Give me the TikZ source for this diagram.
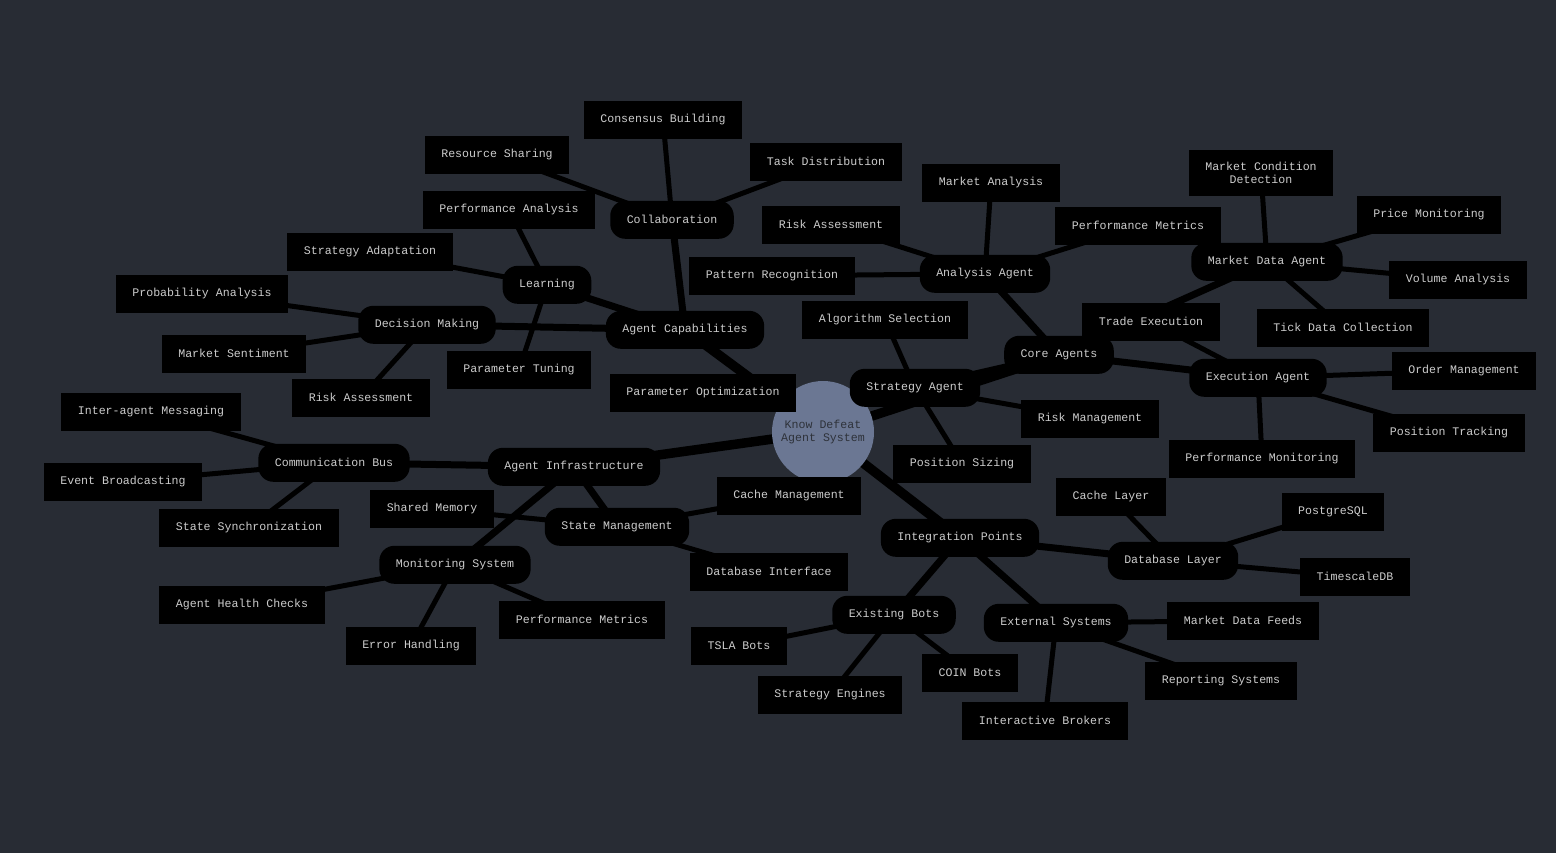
\documentclass[tikz,border=0pt]{standalone}
\usepackage{fontspec}
\setmonofont{Liberation Mono}
\usetikzlibrary{backgrounds}
\definecolor{bgc}{HTML}{282C34}
\definecolor{txtc}{HTML}{CCCCCC}
\definecolor{rootc}{HTML}{6B7793}
\definecolor{roottxt}{HTML}{2E323A}
\tikzset{
  base/.style={fill=black, text=txtc, font=\ttfamily\fontsize{11.6}{13}\selectfont, inner xsep=16.5pt, inner ysep=4pt, minimum height=38pt, align=center, yshift=-0.8pt},
  leaf/.style={base},
  pill/.style={base, rounded corners=15pt},
  root/.style={circle, fill=rootc, text=roottxt, minimum size=102pt, inner sep=0pt, align=center, font=\ttfamily\fontsize{11.6}{13}\selectfont},
  e1/.style={line width=9.5pt, black},
  e2/.style={line width=7pt, black},
  e3/.style={line width=5pt, black}
}
\begin{document}
\begin{tikzpicture}[x=1pt,y=-1pt]
\useasboundingbox (0,0) rectangle (1556,853);
% root
\node[root] (root) at (823,432) {Know Defeat\\Agent System};
% level 1
\node[pill] (cap) at (685,329) {Agent Capabilities};
\node[pill] (infra) at (574,466) {Agent Infrastructure};
\node[pill] (core) at (1059,354) {Core Agents};
\node[pill] (integ) at (960,537) {Integration Points};
% level 2
\node[pill] (learn) at (547,284) {Learning};
\node[pill] (dec) at (427,324) {Decision Making};
\node[pill] (collab) at (672,219) {Collaboration};
\node[leaf] (popt) at (703,392) {Parameter Optimization};
\node[pill] (comm) at (334,462) {Communication Bus};
\node[pill] (state) at (617,526) {State Management};
\node[pill] (mon) at (455,564) {Monitoring System};
\node[pill] (strat) at (915,387) {Strategy Agent};
\node[pill] (anal) at (985,273) {Analysis Agent};
\node[pill] (mda) at (1267,261) {Market Data Agent};
\node[pill] (exec) at (1258,377) {Execution Agent};
\node[pill] (dbl) at (1173,560) {Database Layer};
\node[pill] (bots) at (894,614) {Existing Bots};
\node[pill] (ext) at (1056,622) {External Systems};
% level 3
\node[leaf] (perfa) at (509,209) {Performance Analysis};
\node[leaf] (sada) at (370,251) {Strategy Adaptation};
\node[leaf] (ptun) at (519,369) {Parameter Tuning};
\node[leaf] (proba) at (202,293) {Probability Analysis};
\node[leaf] (msent) at (234,353) {Market Sentiment};
\node[leaf] (riskl) at (361,397) {Risk Assessment};
\node[leaf] (rshare) at (497,154) {Resource Sharing};
\node[leaf] (cons) at (663,119) {Consensus Building};
\node[leaf] (task) at (826,161) {Task Distribution};
\node[leaf] (iam) at (151,411) {Inter-agent Messaging};
\node[leaf] (evb) at (123,481) {Event Broadcasting};
\node[leaf] (ssync) at (249,527) {State Synchronization};
\node[leaf] (smem) at (432,508) {Shared Memory};
\node[leaf] (cmgmt) at (789,495) {Cache Management};
\node[leaf] (dbi) at (769,571) {Database Interface};
\node[leaf] (ahc) at (242,604) {Agent Health Checks};
\node[leaf] (errh) at (411,645) {Error Handling};
\node[leaf] (pml) at (582,619) {Performance Metrics};
\node[leaf] (algo) at (885,319) {Algorithm Selection};
\node[leaf] (psize) at (962,463) {Position Sizing};
\node[leaf] (rmgmt) at (1090,418) {Risk Management};
\node[leaf] (manal) at (991,182) {Market Analysis};
\node[leaf] (riskr) at (831,224) {Risk Assessment};
\node[leaf] (pmr) at (1138,225) {Performance Metrics};
\node[leaf] (patt) at (772,275) {Pattern Recognition};
\node[leaf, inner ysep=12.5pt] (mcd) at (1261,172) {Market Condition\\Detection};
\node[leaf] (price) at (1429,214) {Price Monitoring};
\node[leaf] (vol) at (1458,279) {Volume Analysis};
\node[leaf] (tick) at (1343,327) {Tick Data Collection};
\node[leaf] (trade) at (1151,321) {Trade Execution};
\node[leaf] (order) at (1464,370) {Order Management};
\node[leaf] (ptrack) at (1449,432) {Position Tracking};
\node[leaf] (pmon) at (1262,458) {Performance Monitoring};
\node[leaf] (clay) at (1111,496) {Cache Layer};
\node[leaf] (pg) at (1333,511) {PostgreSQL};
\node[leaf] (tsdb) at (1355,576) {TimescaleDB};
\node[leaf] (tsla) at (739,645) {TSLA Bots};
\node[leaf] (coin) at (970,672) {COIN Bots};
\node[leaf] (seng) at (830,694) {Strategy Engines};
\node[leaf] (mdf) at (1243,620) {Market Data Feeds};
\node[leaf] (rep) at (1221,680) {Reporting Systems};
\node[leaf] (ib) at (1045,720) {Interactive Brokers};
\begin{pgfonlayer}{background}
\fill[bgc] (0,0) rectangle (1556,853);
\foreach \n in {cap,infra,core,integ} \draw[e1] (root.center) -- (\n.center);
\foreach \n in {learn,dec,collab} \draw[e2] (cap.center) -- (\n.center);
\foreach \n in {comm,state,mon} \draw[e2] (infra.center) -- (\n.center);
\foreach \n in {strat,anal,mda,exec} \draw[e2] (core.center) -- (\n.center);
\foreach \n in {dbl,bots,ext} \draw[e2] (integ.center) -- (\n.center);
\foreach \n in {perfa,sada,ptun} \draw[e3] (learn.center) -- (\n.center);
\foreach \n in {proba,msent,riskl} \draw[e3] (dec.center) -- (\n.center);
\foreach \n in {rshare,cons,task} \draw[e3] (collab.center) -- (\n.center);
\foreach \n in {iam,evb,ssync} \draw[e3] (comm.center) -- (\n.center);
\foreach \n in {smem,cmgmt,dbi} \draw[e3] (state.center) -- (\n.center);
\foreach \n in {ahc,errh,pml} \draw[e3] (mon.center) -- (\n.center);
\foreach \n in {algo,psize,rmgmt} \draw[e3] (strat.center) -- (\n.center);
\foreach \n in {manal,riskr,pmr,patt} \draw[e3] (anal.center) -- (\n.center);
\foreach \n in {mcd,price,vol,tick} \draw[e3] (mda.center) -- (\n.center);
\foreach \n in {trade,order,ptrack,pmon} \draw[e3] (exec.center) -- (\n.center);
\foreach \n in {clay,pg,tsdb} \draw[e3] (dbl.center) -- (\n.center);
\foreach \n in {tsla,coin,seng} \draw[e3] (bots.center) -- (\n.center);
\foreach \n in {mdf,rep,ib} \draw[e3] (ext.center) -- (\n.center);
\end{pgfonlayer}
\end{tikzpicture}
\end{document}
